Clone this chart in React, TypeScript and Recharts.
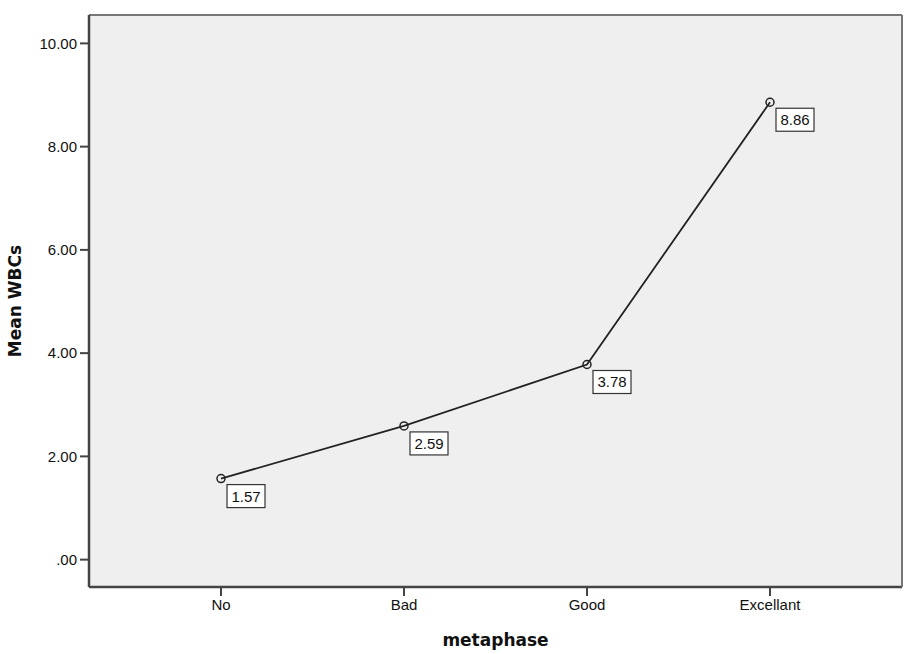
import React from "react"
import { LineChart, Line, XAxis, YAxis, CartesianGrid, LabelList } from "recharts"

const categories = ["No", "Bad", "Good", "Excellant"]
const meanWBCs = [1.57, 2.59, 3.78, 8.86]
const yTicks = [0, 2, 4, 6, 8, 10]
const yDomain = [-0.53, 10.55]

const data = categories.map((c, i) => ({ name: c, value: meanWBCs[i] }))

const FONT = "Liberation Sans, Arial, sans-serif"
const tickFont = { fontFamily: FONT, fontSize: 15, fill: "#111" }
const axisColor = "#444"
const xPad = { left: 132, right: 132 }

const fmt = (v: number) => (v === 0 ? ".00" : v.toFixed(2))

const ValueBox = (props: any) => {
  const { x, y, value } = props
  const bx = x + 6
  const by = y + 6
  return (
    <g>
      <rect x={bx} y={by} width={38} height={23} fill="#fff" stroke="#333" strokeWidth={1.2} />
      <text x={bx + 19} y={by + 17} textAnchor="middle" fontFamily={FONT} fontSize={15} fill="#111">
        {value.toFixed(2)}
      </text>
    </g>
  )
}

const App: React.FC = () => {
  return (
    <div style={{ position: "absolute", left: 0, top: 0, background: "#fff" }}>
      <LineChart width={915} height={654} data={data} margin={{ top: 14, right: 12, left: 0, bottom: 0 }}>
        <CartesianGrid fill="#efefef" horizontal={false} vertical={false} />
        <XAxis
          dataKey="name"
          height={67}
          padding={xPad}
          fontSize={15}
          fontFamily={FONT}
          tick={tickFont}
          tickSize={9}
          tickMargin={3}
          axisLine={{ stroke: axisColor, strokeWidth: 2.5 }}
          tickLine={{ stroke: axisColor, strokeWidth: 2 }}
          label={{
            value: "metaphase",
            position: "insideBottom",
            offset: 8,
            style: { fontFamily: "DejaVu Sans, sans-serif", fontWeight: "bold", fontSize: 17, fill: "#111" },
          }}
        />
        <XAxis
          xAxisId="top"
          orientation="top"
          dataKey="name"
          padding={xPad}
          height={1}
          tick={false}
          tickLine={false}
          axisLine={{ stroke: "#777", strokeWidth: 2 }}
        />
        <YAxis
          width={89}
          domain={yDomain}
          ticks={yTicks}
          tickFormatter={fmt}
          fontSize={15}
          fontFamily={FONT}
          tick={tickFont}
          tickSize={9}
          tickMargin={3}
          axisLine={{ stroke: axisColor, strokeWidth: 2.5 }}
          tickLine={{ stroke: axisColor, strokeWidth: 2 }}
          label={{
            value: "Mean WBCs",
            angle: -90,
            position: "insideLeft",
            offset: 15,
            style: { fontFamily: "DejaVu Sans, sans-serif", fontWeight: "bold", fontSize: 17, fill: "#111", textAnchor: "middle" },
          }}
        />
        <YAxis
          yAxisId="right"
          orientation="right"
          domain={yDomain}
          width={1}
          tick={false}
          tickLine={false}
          axisLine={{ stroke: "#777", strokeWidth: 2 }}
        />
        <Line
          xAxisId="top"
          yAxisId="right"
          dataKey="value"
          stroke="none"
          dot={false}
          activeDot={false}
          isAnimationActive={false}
        />
        <Line
          type="linear"
          dataKey="value"
          stroke="#222"
          strokeWidth={1.8}
          dot={{ r: 4, fill: "none", stroke: "#222", strokeWidth: 1.5 }}
          activeDot={false}
          isAnimationActive={false}
        >
          <LabelList dataKey="value" content={ValueBox} />
        </Line>
      </LineChart>
    </div>
  )
}

export default App
